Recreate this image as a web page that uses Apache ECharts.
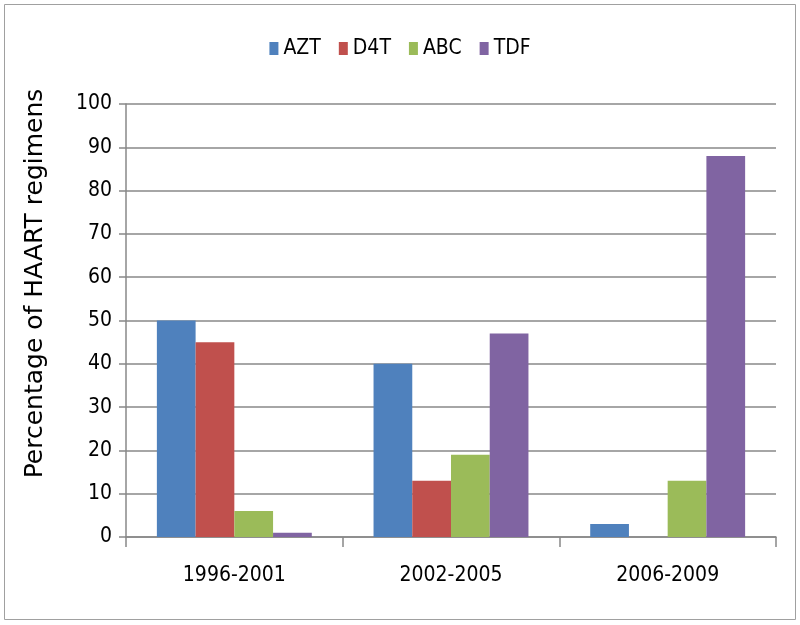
<!DOCTYPE html>
<html><head><meta charset="utf-8">
<script src="https://cdn.jsdelivr.net/npm/echarts@6/dist/echarts.min.js"></script>
<style>html,body{margin:0;padding:0;background:#fff}#c{width:800px;height:625px}</style>
</head><body><div id="c"></div>
<script>
const categories = ['1996-2001', '2002-2005', '2006-2009'];
const seriesNames = ['AZT', 'D4T', 'ABC', 'TDF'];
const AZT = [50, 40, 3];
const D4T = [45, 13, 0];
const ABC = [6, 19, 13];
const TDF = [1, 47, 88];
const yTicks = [0, 10, 20, 30, 40, 50, 60, 70, 80, 90, 100];
const colors = ['#4f81bd', '#c0504d', '#9bbb59', '#8064a2'];
const values = [AZT, D4T, ABC, TDF];
const font = '"Liberation Sans Narrow", "DejaVu Sans Condensed", sans-serif';
const chart = echarts.init(document.getElementById('c'));
chart.setOption({
  animation: false,
  graphic: [{type: 'rect', shape: {x: 4.5, y: 4.5, width: 791, height: 615}, style: {fill: 'none', stroke: '#a0a0a0', lineWidth: 1}}],
  legend: {
    top: 33, left: 'center', itemWidth: 9, itemHeight: 13, itemGap: 18,
    icon: 'rect',
    textStyle: {fontFamily: font, fontSize: 21, color: '#000', padding: [0, 0, 0, 0]},
    data: seriesNames
  },
  grid: {left: 126, right: 24, top: 104, bottom: 88},
  xAxis: {
    type: 'category', data: categories,
    axisLine: {lineStyle: {color: '#888', width: 1.5}},
    axisTick: {show: true, length: 10, lineStyle: {color: '#888', width: 1.5}},
    axisLabel: {fontFamily: font, fontSize: 21, color: '#000', margin: 28}
  },
  yAxis: {
    type: 'value', min: yTicks[0], max: yTicks[yTicks.length - 1], interval: 10,
    name: 'Percentage of HAART regimens', nameLocation: 'middle', nameGap: 78,
    nameTextStyle: {fontFamily: '"DejaVu Sans", sans-serif', fontSize: 25, color: '#000', padding: [0, 0, 0, 74]},
    axisLine: {show: true, lineStyle: {color: '#888', width: 1.5}},
    axisTick: {show: true, length: 7, lineStyle: {color: '#888', width: 1.5}},
    splitLine: {lineStyle: {color: '#888', width: 1.5}},
    axisLabel: {fontFamily: font, fontSize: 21, color: '#000', margin: 14}
  },
  series: seriesNames.map((n, i) => ({
    name: n, type: 'bar', data: values[i], barGap: '0%', barCategoryGap: '28.5%',
    itemStyle: {color: colors[i]}
  }))
});
</script></body></html>
